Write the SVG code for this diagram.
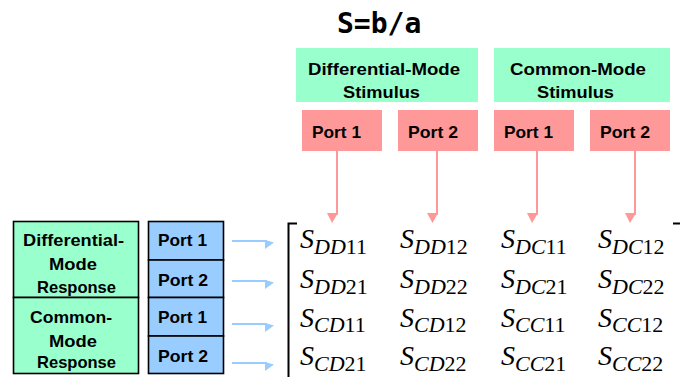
<svg xmlns="http://www.w3.org/2000/svg" width="680" height="377" viewBox="0 0 680 377">
<style>
.lbl{font-family:"Liberation Sans",Arial,sans-serif;font-weight:bold;font-size:17px;fill:#000}
.grn{fill:#99ffcc}
.pnk{fill:#ff9999}
.blu{fill:#99ccff}
.bx{stroke:#000;stroke-width:1.6}
.m{font-family:"Liberation Serif","Times New Roman",serif;font-size:28px;font-style:italic;fill:#000}
.sub{font-size:22px}
.up{font-style:normal}
.pl{stroke:#ff9999;stroke-width:2;fill:none}
.pa{fill:#ff9999}
.bl{stroke:#99ccff;stroke-width:2;fill:none}
.ba{fill:#99ccff}
</style>
<rect width="680" height="377" fill="#fff"/>
<text x="337" y="33" font-family="'DejaVu Sans Mono',monospace" font-weight="bold" font-size="28">S=b/a</text>

<g id="dm-stimulus">
<rect class="grn" x="296" y="48" width="182" height="54"/>
<text class="lbl" x="308" y="75" textLength="152" lengthAdjust="spacingAndGlyphs">Differential-Mode</text>
<text class="lbl" x="343" y="98" textLength="77" lengthAdjust="spacingAndGlyphs">Stimulus</text>
</g>
<g id="cm-stimulus">
<rect class="grn" x="494" y="48" width="176" height="54"/>
<text class="lbl" x="510" y="75" textLength="136" lengthAdjust="spacingAndGlyphs">Common-Mode</text>
<text class="lbl" x="537" y="98" textLength="77" lengthAdjust="spacingAndGlyphs">Stimulus</text>
</g>
<g id="dm-port1">
<rect class="pnk" x="302" y="110" width="80" height="41"/>
<text class="lbl" x="312" y="138" textLength="49" lengthAdjust="spacingAndGlyphs">Port 1</text>
</g>
<g id="dm-port2">
<rect class="pnk" x="398" y="110" width="80" height="41"/>
<text class="lbl" x="408" y="138" textLength="50" lengthAdjust="spacingAndGlyphs">Port 2</text>
</g>
<g id="cm-port1">
<rect class="pnk" x="494" y="110" width="80" height="41"/>
<text class="lbl" x="504" y="138" textLength="49" lengthAdjust="spacingAndGlyphs">Port 1</text>
</g>
<g id="cm-port2">
<rect class="pnk" x="590" y="110" width="80" height="41"/>
<text class="lbl" x="600" y="138" textLength="50" lengthAdjust="spacingAndGlyphs">Port 2</text>
</g>

<g id="dm-response">
<rect class="grn bx" x="13.5" y="221.5" width="125" height="76"/>
<text class="lbl" x="23" y="246" textLength="101" lengthAdjust="spacingAndGlyphs">Differential-</text>
<text class="lbl" x="49" y="270" textLength="48" lengthAdjust="spacingAndGlyphs">Mode</text>
<text class="lbl" x="37" y="293" textLength="79" lengthAdjust="spacingAndGlyphs">Response</text>
</g>
<g id="cm-response">
<rect class="grn bx" x="13.5" y="297.5" width="125" height="76"/>
<text class="lbl" x="30" y="323" textLength="82" lengthAdjust="spacingAndGlyphs">Common-</text>
<text class="lbl" x="49" y="347" textLength="48" lengthAdjust="spacingAndGlyphs">Mode</text>
<text class="lbl" x="37" y="368" textLength="79" lengthAdjust="spacingAndGlyphs">Response</text>
</g>
<g id="dm-resp-port1">
<rect class="blu bx" x="148.5" y="221.5" width="75" height="38.5"/>
<text class="lbl" x="158" y="246" textLength="49" lengthAdjust="spacingAndGlyphs">Port 1</text>
</g>
<g id="dm-resp-port2">
<rect class="blu bx" x="148.5" y="260" width="75" height="37.5"/>
<text class="lbl" x="158" y="286" textLength="50" lengthAdjust="spacingAndGlyphs">Port 2</text>
</g>
<g id="cm-resp-port1">
<rect class="blu bx" x="148.5" y="297.5" width="75" height="38.5"/>
<text class="lbl" x="158" y="323" textLength="49" lengthAdjust="spacingAndGlyphs">Port 1</text>
</g>
<g id="cm-resp-port2">
<rect class="blu bx" x="148.5" y="336" width="75" height="37.5"/>
<text class="lbl" x="158" y="362" textLength="50" lengthAdjust="spacingAndGlyphs">Port 2</text>
</g>

<g id="connectors">
<line class="pl" x1="337" y1="151" x2="337" y2="215"/>
<polygon class="pa" points="327,213 338,213 332,223"/>
<line class="pl" x1="437" y1="151" x2="437" y2="215"/>
<polygon class="pa" points="427,213 438,213 432.5,223"/>
<line class="pl" x1="537" y1="151" x2="537" y2="215"/>
<polygon class="pa" points="527,213 538,213 532,223"/>
<line class="pl" x1="635" y1="151" x2="635" y2="215"/>
<polygon class="pa" points="625,213 636,213 630,223"/>

<line class="bl" x1="232" y1="241" x2="267" y2="241"/>
<polygon class="ba" points="265,240 274,242.5 265,249"/>
<line class="bl" x1="232" y1="281" x2="267" y2="281"/>
<polygon class="ba" points="265,280 274,282.5 265,289"/>
<line class="bl" x1="232" y1="324" x2="267" y2="324"/>
<polygon class="ba" points="265,323 274,325.5 265,332"/>
<line class="bl" x1="232" y1="363" x2="267" y2="363"/>
<polygon class="ba" points="265,362 274,364.5 265,371"/>
</g>

<g id="matrix">
<path d="M297,223.5 H288.5 V377" fill="none" stroke="#000" stroke-width="2"/>
<path d="M673,223.5 H681" fill="none" stroke="#000" stroke-width="2"/>
<text class="m" x="300" y="248">S<tspan class="sub" dy="6">DD</tspan><tspan class="sub up">11</tspan></text>
<text class="m" x="400" y="248">S<tspan class="sub" dy="6">DD</tspan><tspan class="sub up">12</tspan></text>
<text class="m" x="501" y="248">S<tspan class="sub" dy="6">DC</tspan><tspan class="sub up">11</tspan></text>
<text class="m" x="598" y="248">S<tspan class="sub" dy="6">DC</tspan><tspan class="sub up">12</tspan></text>
<text class="m" x="300" y="288">S<tspan class="sub" dy="6">DD</tspan><tspan class="sub up">21</tspan></text>
<text class="m" x="400" y="288">S<tspan class="sub" dy="6">DD</tspan><tspan class="sub up">22</tspan></text>
<text class="m" x="501" y="288">S<tspan class="sub" dy="6">DC</tspan><tspan class="sub up">21</tspan></text>
<text class="m" x="598" y="288">S<tspan class="sub" dy="6">DC</tspan><tspan class="sub up">22</tspan></text>
<text class="m" x="300" y="327">S<tspan class="sub" dy="5">CD</tspan><tspan class="sub up">11</tspan></text>
<text class="m" x="400" y="327">S<tspan class="sub" dy="5">CD</tspan><tspan class="sub up">12</tspan></text>
<text class="m" x="501" y="327">S<tspan class="sub" dy="5">CC</tspan><tspan class="sub up">11</tspan></text>
<text class="m" x="598" y="327">S<tspan class="sub" dy="5">CC</tspan><tspan class="sub up">12</tspan></text>
<text class="m" x="300" y="365">S<tspan class="sub" dy="6">CD</tspan><tspan class="sub up">21</tspan></text>
<text class="m" x="400" y="365">S<tspan class="sub" dy="6">CD</tspan><tspan class="sub up">22</tspan></text>
<text class="m" x="501" y="365">S<tspan class="sub" dy="6">CC</tspan><tspan class="sub up">21</tspan></text>
<text class="m" x="598" y="365">S<tspan class="sub" dy="6">CC</tspan><tspan class="sub up">22</tspan></text>
</g>
</svg>
